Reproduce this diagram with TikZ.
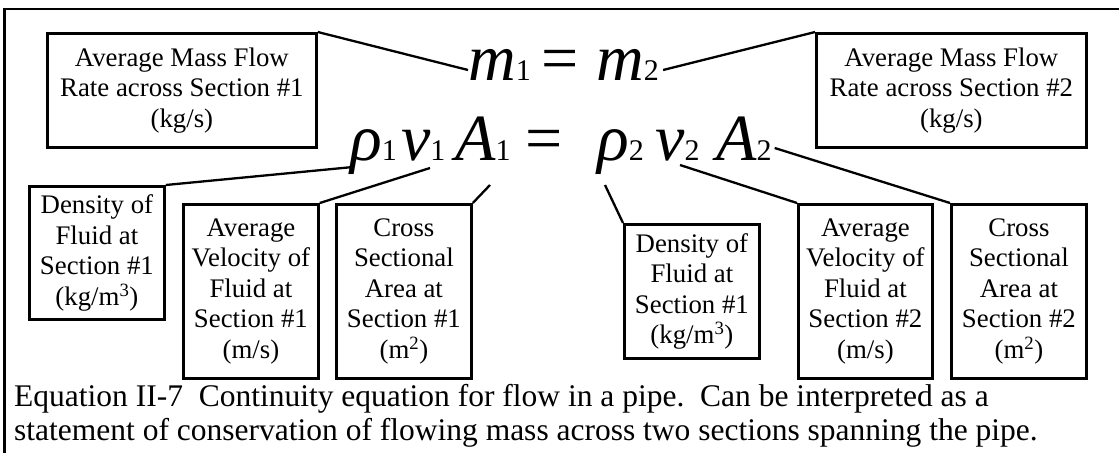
\documentclass[tikz,border=0pt]{standalone}
\usepackage{fontspec}
\setmainfont{Liberation Serif}
\usetikzlibrary{calc}
\tikzset{
  notebox/.style={draw, line width=2.8pt, align=center, inner sep=0pt,
    anchor=north west, font=\fontsize{26.8}{30.5}\selectfont},
  eqsym/.style={inner sep=0pt, anchor=base west,
    font=\fontsize{66}{66}\selectfont\itshape},
  eqsign/.style={eqsym, font=\fontsize{66}{66}\selectfont},
  leader/.style={line width=2.3pt},
  captionline/.style={inner sep=0pt, anchor=base west,
    font=\fontsize{31.5}{36}\selectfont},
}
\newcommand{\subidx}[1]{{\fontsize{30}{30}\selectfont\upshape #1}}

\begin{document}
\begin{tikzpicture}[x=1pt,y=-1pt]
  \useasboundingbox (0,0) rectangle (1119,453);
  % outer frame, cut off at the right and bottom
  \draw[line width=2.8pt] (4.5,453) -- (4.5,9) -- (1119,9);

  % mass flow rate boxes
  \node[notebox,minimum width=269pt,minimum height=114pt] (mdot1) at (46,32)
    {Average Mass Flow\\Rate across Section \#1\\(kg/s)};
  \node[notebox,minimum width=270pt,minimum height=114pt] (mdot2) at (815,32)
    {Average Mass Flow\\Rate across Section \#2\\(kg/s)};

  % m1 = m2
  \node[eqsym] (m1) at (468,80) {m\subidx{1}};
  \node[eqsign] (eqtop) at (541,80) {=};
  \node[eqsym] (m2) at (596,80) {m\subidx{2}};

  % rho1 v1 A1 = rho2 v2 A2
  \node[eqsym] (rho1) at (350,160) {ρ\subidx{1}};
  \node[eqsym] (v1) at (401,160) {v\subidx{1}};
  \node[eqsym] (A1) at (455,160) {A\subidx{1}};
  \node[eqsign] (eqbot) at (525,160) {=};
  \node[eqsym] (rho2) at (597,160) {ρ\subidx{2}};
  \node[eqsym] (v2) at (655,160) {v\subidx{2}};
  \node[eqsym] (A2) at (716,160) {A\subidx{2}};

  % section 1 boxes
  \node[notebox,minimum width=135pt,minimum height=133pt] (dens1) at (28,185)
    {Density of\\Fluid at\\Section \#1\\(kg/m\textsuperscript{3})};
  \node[notebox,minimum width=135pt,minimum height=174pt] (vel1) at (182,203)
    {Average\\Velocity of\\Fluid at\\Section \#1\\(m/s)};
  \node[notebox,minimum width=135pt,minimum height=174pt] (area1) at (335,203)
    {Cross\\Sectional\\Area at\\Section \#1\\(m\textsuperscript{2})};

  % section 2 boxes
  \node[notebox,minimum width=135pt,minimum height=134pt] (dens2) at (623,223)
    {Density of\\Fluid at\\Section \#1\\(kg/m\textsuperscript{3})};
  \node[notebox,minimum width=134pt,minimum height=174pt] (vel2) at (797,203)
    {Average\\Velocity of\\Fluid at\\Section \#2\\(m/s)};
  \node[notebox,minimum width=135pt,minimum height=174pt] (area2) at (950,203)
    {Cross\\Sectional\\Area at\\Section \#2\\(m\textsuperscript{2})};

  % leaders
  \draw[leader] (mdot1.north east) -- ($(m1.base west)+(0,-10)$);
  \draw[leader] ($(m2.base east)+(4,-10)$) -- (mdot2.north west);
  \draw[leader] (dens1.north east) -- ($(rho1.base west)+(3,7)$);
  \draw[leader] (vel1.north east) -- ($(v1.base west)+(29,8)$);
  \coordinate (a1tip) at ($(A1.base west)+(35,25)$);
  \draw[leader] (area1.north east) -- (a1tip);
  \draw[leader] ($(rho2.base west)+(8,25)$) -- (dens2.north west);
  \draw[leader] ($(v2.base west)+(25,5)$) -- (vel2.north west);
  \draw[leader] ($(A2.base east)+(3,-12)$) -- (area2.north west);

  % caption
  \node[captionline] (cap1) at (14,406)
    {Equation II-7\ \ Continuity equation for flow in a pipe.\ \ Can be interpreted as a};
  \node[captionline] (cap2) at (14,440)
    {statement of conservation of flowing mass across two sections spanning the pipe.};
\end{tikzpicture}
\end{document}
